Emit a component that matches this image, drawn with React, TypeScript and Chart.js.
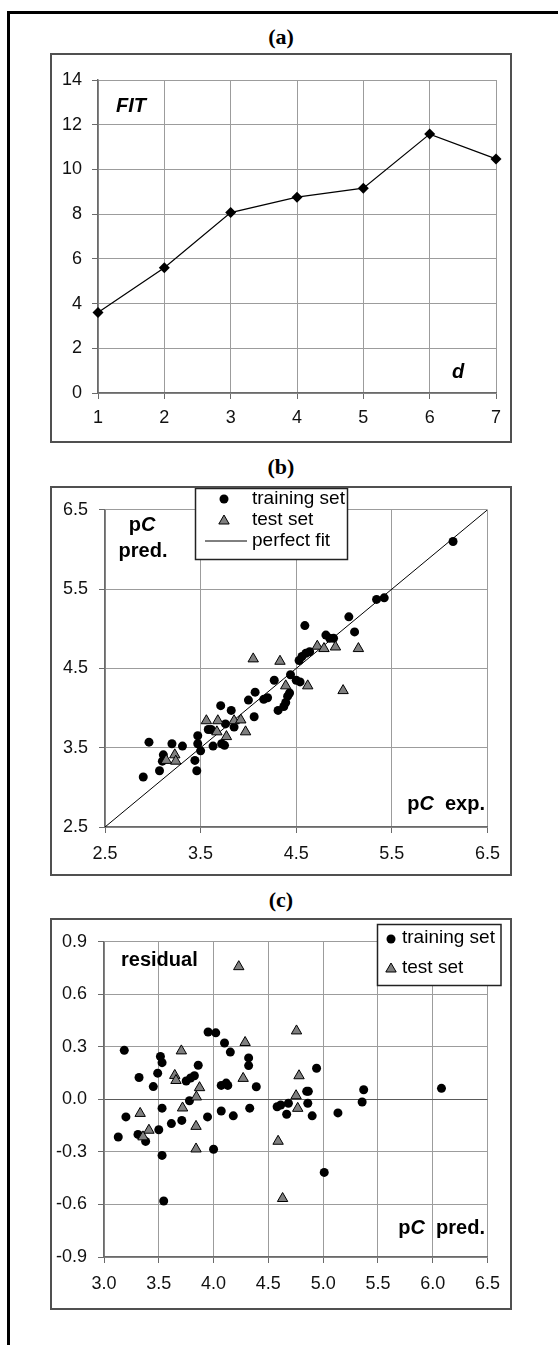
import React, { useEffect, useRef } from 'react';
import { Chart, registerables } from 'chart.js';
Chart.register(...registerables);

// ---------- Panel (a) ----------
const dValues = [1, 2, 3, 4, 5, 6, 7];
const fitValues = [3.6, 5.6, 8.07, 8.76, 9.16, 11.58, 10.47];

// ---------- Panel (b) ----------
const trainExp = [2.90, 2.96, 3.07, 3.10, 3.11, 3.20, 3.31, 3.44, 3.46, 3.47, 3.47, 3.50, 3.58, 3.61, 3.63, 3.71, 3.72, 3.75, 3.76, 3.82, 3.85, 4.00, 4.06, 4.07, 4.16, 4.20, 4.27, 4.31, 4.37, 4.39, 4.41, 4.43, 4.44, 4.50, 4.54, 4.53, 4.56, 4.59, 4.60, 4.64, 4.81, 4.85, 4.89, 5.05, 5.11, 5.34, 5.42, 6.14];
const trainPred = [3.13, 3.57, 3.21, 3.33, 3.41, 3.55, 3.52, 3.34, 3.21, 3.65, 3.55, 3.46, 3.73, 3.73, 3.52, 4.03, 3.55, 3.53, 3.80, 3.97, 3.76, 4.10, 3.89, 4.20, 4.11, 4.13, 4.35, 3.97, 4.02, 4.07, 4.15, 4.19, 4.42, 4.35, 4.33, 4.60, 4.65, 5.04, 4.69, 4.71, 4.92, 4.88, 4.88, 5.15, 4.96, 5.37, 5.39, 6.10];
const testExp = [3.14, 3.23, 3.24, 3.56, 3.68, 3.67, 3.77, 3.85, 3.92, 3.97, 4.05, 4.33, 4.39, 4.62, 4.72, 4.79, 4.91, 5.15, 4.99];
const testPred = [3.34, 3.41, 3.33, 3.84, 3.84, 3.70, 3.64, 3.84, 3.85, 3.70, 4.62, 4.59, 4.28, 4.28, 4.78, 4.75, 4.77, 4.75, 4.22];
const perfectX = [2.5, 6.5];
const perfectY = [2.5, 6.5];

// ---------- Panel (c) ----------
const resTrainPred = [3.13, 3.185, 3.20, 3.31, 3.32, 3.38, 3.45, 3.49, 3.50, 3.515, 3.53, 3.53, 3.53, 3.545, 3.615, 3.71, 3.75, 3.78, 3.79, 3.825, 3.86, 3.945, 3.95, 4.00, 4.02, 4.07, 4.07, 4.10, 4.115, 4.13, 4.153, 4.18, 4.32, 4.32, 4.33, 4.39, 4.58, 4.613, 4.667, 4.683, 4.85, 4.865, 4.86, 4.90, 4.94, 5.01, 5.135, 5.356, 5.37, 6.08];
const resTrainVal = [-0.215, 0.28, -0.10, -0.20, 0.125, -0.24, 0.073, 0.15, -0.173, 0.245, 0.21, -0.05, -0.32, -0.58, -0.138, -0.12, 0.105, -0.008, 0.122, 0.135, 0.195, -0.10, 0.385, -0.285, 0.38, 0.08, -0.066, 0.322, 0.093, 0.08, 0.27, -0.094, 0.237, 0.193, -0.05, 0.072, -0.042, -0.032, -0.085, -0.022, 0.046, 0.046, -0.022, -0.094, 0.178, -0.417, -0.077, -0.015, 0.055, 0.063];
const resTestPred = [3.33, 3.41, 3.356, 3.646, 3.657, 3.706, 3.717, 3.843, 3.872, 3.84, 3.84, 4.23, 4.288, 4.27, 4.589, 4.63, 4.757, 4.78, 4.753, 4.768];
const resTestVal = [-0.08, -0.176, -0.214, 0.137, 0.108, 0.277, -0.049, 0.014, 0.067, -0.154, -0.283, 0.758, 0.325, 0.12, -0.239, -0.566, 0.391, 0.135, 0.021, -0.051];

// ---------- styling ----------
const SANS = "'Liberation Sans', Arial, sans-serif";
const TICK_FONT = { family: SANS, size: 18 };
const GRID = '#9c9c9c';
const AXIS = '#6a6a6a';
const TRI_FILL = '#7f7f7f';

type Seg = { t: string; f: string };
const B20 = `bold 20px ${SANS}`;
const BI20 = `italic bold 20px ${SANS}`;
const LEG = `19px ${SANS}`;

function drawSegs(ctx: CanvasRenderingContext2D, segs: Seg[], x: number, y: number, align: 'left' | 'right' | 'center') {
  let total = 0;
  const widths = segs.map((s) => {
    ctx.font = s.f;
    const w = ctx.measureText(s.t).width;
    total += w;
    return w;
  });
  let cx = align === 'left' ? x : align === 'right' ? x - total : x - total / 2;
  ctx.textBaseline = 'middle';
  ctx.textAlign = 'left';
  ctx.fillStyle = '#000';
  segs.forEach((s, i) => {
    ctx.font = s.f;
    ctx.fillText(s.t, cx, y);
    cx += widths[i];
  });
}

function legendCircle(ctx: CanvasRenderingContext2D, x: number, y: number) {
  ctx.beginPath();
  ctx.arc(x, y, 4.5, 0, Math.PI * 2);
  ctx.fillStyle = '#000';
  ctx.fill();
}
function legendTriangle(ctx: CanvasRenderingContext2D, x: number, y: number) {
  const r = 6;
  ctx.beginPath();
  for (let i = 0; i < 3; i++) {
    const a = (i * 2 * Math.PI) / 3;
    const px = x + Math.sin(a) * r;
    const py = y - Math.cos(a) * r;
    if (i === 0) ctx.moveTo(px, py);
    else ctx.lineTo(px, py);
  }
  ctx.closePath();
  ctx.fillStyle = TRI_FILL;
  ctx.fill();
  ctx.strokeStyle = '#000';
  ctx.lineWidth = 1;
  ctx.stroke();
}
function legendBox(ctx: CanvasRenderingContext2D, x1: number, y1: number, x2: number, y2: number) {
  ctx.fillStyle = '#fff';
  ctx.fillRect(x1, y1, x2 - x1, y2 - y1);
  ctx.strokeStyle = '#222';
  ctx.lineWidth = 1.5;
  ctx.strokeRect(x1, y1, x2 - x1, y2 - y1);
}

type Geo = { cl: number; ct: number; cw: number; ch: number; al: number; at: number; ar: number; ab: number };

function scaleBase(min: number, max: number, step: number, fmt: (v: number) => string, padding: number, fit: (s: any) => void, gridColor?: (c: any) => string) {
  return {
    type: 'linear' as const,
    min,
    max,
    afterFit: fit,
    ticks: {
      stepSize: step,
      font: TICK_FONT,
      color: '#111',
      padding,
      callback: (v: any) => fmt(Number(v)),
    },
    grid: {
      color: gridColor || GRID,
      lineWidth: 1,
      drawTicks: true,
      tickLength: 6,
      tickColor: AXIS,
    },
    border: { color: AXIS, width: 1.5 },
  };
}

function baseOptions(g: Geo, xs: any, ys: any) {
  return {
    responsive: false,
    animation: false as const,
    events: [] as any[],
    layout: { padding: { left: 0, top: g.at - g.ct, right: g.cl + g.cw - g.ar, bottom: 0 } },
    plugins: { legend: { display: false }, tooltip: { enabled: false }, title: { display: false } },
    scales: { x: xs, y: ys },
  };
}

function ChartPanel({ geo, build }: { geo: Geo; build: (g: Geo) => any }) {
  const ref = useRef<HTMLCanvasElement>(null);
  useEffect(() => {
    if (!ref.current) return;
    const chart = new Chart(ref.current, build(geo));
    return () => chart.destroy();
  }, []);
  return (
    <canvas
      ref={ref}
      width={geo.cw}
      height={geo.ch}
      style={{ position: 'absolute', left: geo.cl, top: geo.ct, width: geo.cw, height: geo.ch }}
    />
  );
}

const geoA: Geo = { cl: 52, ct: 55, cw: 458, ch: 385, al: 98, at: 80, ar: 496, ab: 393 };
const geoB: Geo = { cl: 52, ct: 488, cw: 458, ch: 386, al: 105, at: 503, ar: 494, ab: 827 };
const geoC: Geo = { cl: 52, ct: 920, cw: 458, ch: 388, al: 104, at: 941, ar: 495, ab: 1257 };

function buildA(g: Geo) {
  const xs = scaleBase(1, 7, 1, (v) => String(v), 8, (s) => { s.height = g.ct + g.ch - g.ab; });
  const ys = scaleBase(0, 14, 2, (v) => String(v), 10, (s) => { s.width = g.al - g.cl; });
  return {
    type: 'scatter',
    data: {
      datasets: [
        {
          data: dValues.map((d, i) => ({ x: d, y: fitValues[i] })),
          showLine: true,
          clip: false,
          borderColor: '#000',
          borderWidth: 1.2,
          pointStyle: 'rectRot',
          pointRadius: 5.5,
          pointBackgroundColor: '#000',
          pointBorderColor: '#000',
          pointBorderWidth: 0,
        },
      ],
    },
    options: baseOptions(g, xs, ys),
    plugins: [
      {
        id: 'overlayA',
        afterDraw(chart: any) {
          const ctx = chart.ctx as CanvasRenderingContext2D;
          ctx.save();
          ctx.translate(-g.cl, -g.ct);
          drawSegs(ctx, [{ t: 'FIT', f: BI20 }], 116, 106, 'left');
          drawSegs(ctx, [{ t: 'd', f: BI20 }], 458, 372, 'center');
          ctx.restore();
        },
      },
    ],
  };
}

function buildB(g: Geo) {
  const f1 = (v: number) => v.toFixed(1);
  const xs = scaleBase(2.5, 6.5, 1, f1, 10, (s) => { s.height = g.ct + g.ch - g.ab; });
  const ys = scaleBase(2.5, 6.5, 1, f1, 11, (s) => { s.width = g.al - g.cl; });
  return {
    type: 'scatter',
    data: {
      datasets: [
        {
          data: testExp.map((x, i) => ({ x, y: testPred[i] })),
          clip: false,
          pointStyle: 'triangle',
          pointRadius: 6,
          pointBackgroundColor: TRI_FILL,
          pointBorderColor: '#000',
          pointBorderWidth: 1,
        },
        {
          data: trainExp.map((x, i) => ({ x, y: trainPred[i] })),
          clip: false,
          pointStyle: 'circle',
          pointRadius: 4.5,
          pointBackgroundColor: '#000',
          pointBorderColor: '#000',
          pointBorderWidth: 0,
        },
        {
          data: perfectX.map((x, i) => ({ x, y: perfectY[i] })),
          showLine: true,
          borderColor: '#000',
          borderWidth: 1,
          pointRadius: 0,
        },
      ],
    },
    options: baseOptions(g, xs, ys),
    plugins: [
      {
        id: 'overlayB',
        afterDraw(chart: any) {
          const ctx = chart.ctx as CanvasRenderingContext2D;
          ctx.save();
          ctx.translate(-g.cl, -g.ct);
          legendBox(ctx, 195.5, 488.5, 347.5, 559.5);
          legendCircle(ctx, 224, 499);
          drawSegs(ctx, [{ t: 'training set', f: LEG }], 252, 499, 'left');
          legendTriangle(ctx, 224, 521);
          drawSegs(ctx, [{ t: 'test set', f: LEG }], 252, 520, 'left');
          ctx.beginPath();
          ctx.moveTo(205, 541);
          ctx.lineTo(247, 541);
          ctx.strokeStyle = '#000';
          ctx.lineWidth = 1;
          ctx.stroke();
          drawSegs(ctx, [{ t: 'perfect fit', f: LEG }], 252, 541, 'left');
          drawSegs(ctx, [{ t: 'p', f: B20 }, { t: 'C', f: BI20 }], 142, 525, 'center');
          drawSegs(ctx, [{ t: 'pred.', f: B20 }], 143, 551, 'center');
          drawSegs(ctx, [{ t: 'p', f: B20 }, { t: 'C', f: BI20 }, { t: '  exp.', f: B20 }], 485, 804, 'right');
          ctx.restore();
        },
      },
    ],
  };
}

function buildC(g: Geo) {
  const f1 = (v: number) => (Math.abs(v) < 1e-9 ? '0.0' : v.toFixed(1));
  const xs = scaleBase(3.0, 6.5, 0.5, f1, 10, (s) => { s.height = g.ct + g.ch - g.ab; });
  const ys = scaleBase(-0.9, 0.9, 0.3, f1, 11, (s) => { s.width = g.al - g.cl; }, (c: any) =>
    c.tick && Math.abs(c.tick.value) < 1e-9 ? '#5a5a5a' : GRID
  );
  return {
    type: 'scatter',
    data: {
      datasets: [
        {
          data: resTestPred.map((x, i) => ({ x, y: resTestVal[i] })),
          clip: false,
          pointStyle: 'triangle',
          pointRadius: 6,
          pointBackgroundColor: TRI_FILL,
          pointBorderColor: '#000',
          pointBorderWidth: 1,
        },
        {
          data: resTrainPred.map((x, i) => ({ x, y: resTrainVal[i] })),
          clip: false,
          pointStyle: 'circle',
          pointRadius: 4.5,
          pointBackgroundColor: '#000',
          pointBorderColor: '#000',
          pointBorderWidth: 0,
        },
      ],
    },
    options: baseOptions(g, xs, ys),
    plugins: [
      {
        id: 'overlayC',
        afterDraw(chart: any) {
          const ctx = chart.ctx as CanvasRenderingContext2D;
          ctx.save();
          ctx.translate(-g.cl, -g.ct);
          legendBox(ctx, 377.5, 924.5, 501, 985.5);
          legendCircle(ctx, 391, 939);
          drawSegs(ctx, [{ t: 'training set', f: LEG }], 402, 938, 'left');
          legendTriangle(ctx, 391, 969);
          drawSegs(ctx, [{ t: 'test set', f: LEG }], 402, 968, 'left');
          drawSegs(ctx, [{ t: 'residual', f: B20 }], 121, 960, 'left');
          drawSegs(ctx, [{ t: 'p', f: B20 }, { t: 'C', f: BI20 }, { t: '  pred.', f: B20 }], 485, 1228, 'right');
          ctx.restore();
        },
      },
    ],
  };
}

const titleStyle = (top: number): React.CSSProperties => ({
  position: 'absolute',
  left: 181,
  width: 200,
  top,
  textAlign: 'center',
  font: "bold 22px 'Liberation Serif', 'Times New Roman', serif",
  lineHeight: '24px',
  color: '#000',
});

const boxStyle = (top: number, height: number): React.CSSProperties => ({
  position: 'absolute',
  left: 50,
  top,
  width: 462,
  height,
  border: '2px solid #505050',
  boxSizing: 'border-box',
});

export default function App() {
  return (
    <div style={{ position: 'absolute', left: 0, top: 0, width: 558, height: 1345, overflow: 'hidden', background: '#fff' }}>
      <div style={{ position: 'absolute', left: 7, top: 11, width: 700, height: 1500, border: '3px solid #000', boxSizing: 'border-box' }} />
      <div style={titleStyle(25)}>(a)</div>
      <div style={titleStyle(455)}>(b)</div>
      <div style={titleStyle(888)}>(c)</div>
      <div style={boxStyle(53, 390)} />
      <div style={boxStyle(486, 390)} />
      <div style={boxStyle(918, 392)} />
      <ChartPanel geo={geoA} build={buildA} />
      <ChartPanel geo={geoB} build={buildB} />
      <ChartPanel geo={geoC} build={buildC} />
    </div>
  );
}
